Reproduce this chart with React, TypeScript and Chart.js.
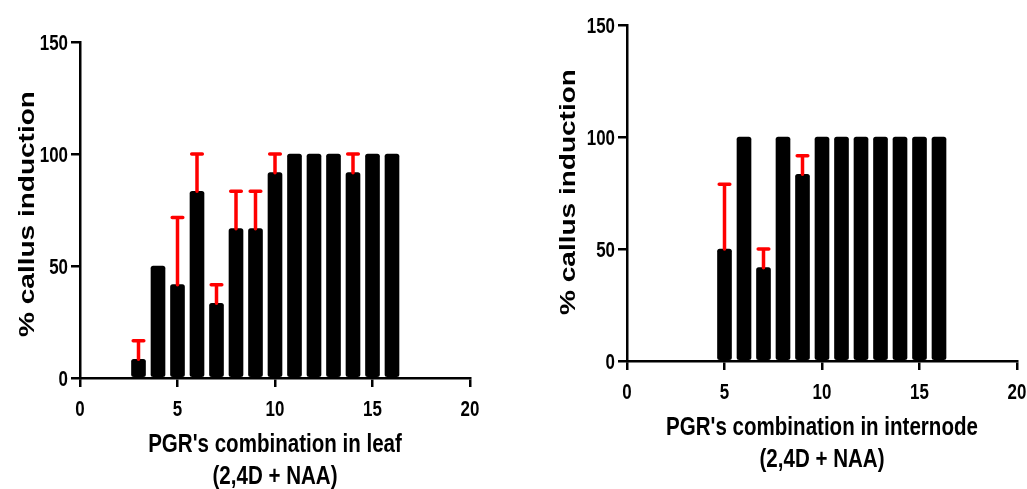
import React, { useEffect, useRef } from 'react';
import { Chart, registerables } from 'chart.js';

Chart.register(...registerables);

// ---- data ----
const leafX = [3, 4, 5, 6, 7, 8, 9, 10, 11, 12, 13, 14, 15, 16];
const leafMean = [8.33, 50, 41.67, 83.33, 33.33, 66.67, 66.67, 91.67, 100, 100, 100, 91.67, 100, 100];
const leafSD = [8.33, 0, 30, 16.67, 8.33, 16.67, 16.67, 8.33, 0, 0, 0, 8.33, 0, 0];

const internodeX = [5, 6, 7, 8, 9, 10, 11, 12, 13, 14, 15, 16];
const internodeMean = [50, 100, 41.67, 100, 83.33, 100, 100, 100, 100, 100, 100, 100];
const internodeSD = [28.87, 0, 8.33, 0, 8.33, 0, 0, 0, 0, 0, 0, 0];

const xMin = 0;
const xMax = 20;
const xStep = 5;
const yMin = 0;
const yMax = 150;
const yStep = 50;

const yTitle = '% callus induction';
const leafTitle = ["PGR's combination in leaf", '(2,4D + NAA)'];
const internodeTitle = ["PGR's combination in internode", '(2,4D + NAA)'];

const FONT = "'Liberation Sans', Arial, sans-serif";
const SQUEEZE = 0.77;

type PanelCfg = {
  xs: number[];
  means: number[];
  sds: number[];
  xTitle: string[];
  left: number;
  width: number;
  padTop: number;
  padRight: number;
  yAxisWidth: number;
  xAxisHeight: number;
  yTitleX: number;
  yTitleY: number;
};

const panels: PanelCfg[] = [
  {
    xs: leafX, means: leafMean, sds: leafSD, xTitle: leafTitle,
    left: 0, width: 513, padTop: 42, padRight: 43, yAxisWidth: 80, xAxisHeight: 111,
    yTitleX: 33.5, yTitleY: 214,
  },
  {
    xs: internodeX, means: internodeMean, sds: internodeSD, xTitle: internodeTitle,
    left: 513, width: 514, padTop: 25, padRight: 10, yAxisWidth: 114, xAxisHeight: 128,
    yTitleX: 62, yTitleY: 192,
  },
];

const H = 489;

function Panel({ cfg }: { cfg: PanelCfg }) {
  const ref = useRef<HTMLCanvasElement | null>(null);
  useEffect(() => {
    const canvas = ref.current;
    if (!canvas) return;

    const errorBars = {
      id: 'errorBars',
      afterDatasetsDraw(chart: any) {
        const ctx = chart.ctx;
        const meta = chart.getDatasetMeta(0);
        const ys = chart.scales.y;
        ctx.save();
        ctx.strokeStyle = '#ff0000';
        ctx.lineWidth = 3.5;
        ctx.lineCap = 'round';
        meta.data.forEach((el: any, i: number) => {
          const sd = cfg.sds[i];
          if (!sd) return;
          const top = ys.getPixelForValue(cfg.means[i] + sd);
          ctx.beginPath();
          ctx.moveTo(el.x, el.y);
          ctx.lineTo(el.x, top);
          ctx.moveTo(el.x - 5.3, top);
          ctx.lineTo(el.x + 5.3, top);
          ctx.stroke();
        });
        ctx.restore();
      },
    };

    // squeezed (narrow) text for tick labels and titles
    const texts = {
      id: 'texts',
      afterDraw(chart: any) {
        const ctx = chart.ctx;
        const area = chart.chartArea;
        const xs = chart.scales.x;
        const ys = chart.scales.y;
        ctx.save();
        ctx.fillStyle = '#000';
        ctx.textBaseline = 'alphabetic';

        // tick labels
        ctx.font = `bold 22px ${FONT}`;
        ctx.textAlign = 'center';
        xs.ticks.forEach((t: any) => {
          const px = xs.getPixelForValue(t.value);
          ctx.save();
          ctx.translate(px, area.bottom + 38);
          ctx.scale(SQUEEZE, 1);
          ctx.fillText(String(t.value), 0, 0);
          ctx.restore();
        });
        ctx.textAlign = 'right';
        ys.ticks.forEach((t: any) => {
          const py = ys.getPixelForValue(t.value);
          ctx.save();
          ctx.translate(area.left - 12, py + 8);
          ctx.scale(SQUEEZE, 1);
          ctx.fillText(String(t.value), 0, 0);
          ctx.restore();
        });

        // x title
        ctx.font = `bold 26px ${FONT}`;
        ctx.textAlign = 'center';
        const cx = (area.left + area.right) / 2;
        cfg.xTitle.forEach((line, i) => {
          ctx.save();
          ctx.translate(cx, area.bottom + 74 + i * 32);
          ctx.scale(SQUEEZE + 0.02, 1);
          ctx.fillText(line, 0, 0);
          ctx.restore();
        });

        // y title
        ctx.save();
        ctx.font = `bold 28px ${FONT}`;
        ctx.translate(cfg.yTitleX, cfg.yTitleY);
        ctx.rotate(-Math.PI / 2);
        ctx.scale(1, SQUEEZE);
        ctx.fillText(yTitle, 0, 0);
        ctx.restore();
        ctx.restore();
      },
    };

    const gridCommon = {
      display: true,
      drawOnChartArea: false,
      drawTicks: true,
      offset: false,
      tickLength: 9,
      color: '#000',
      tickColor: '#000',
      lineWidth: 2.5,
      tickWidth: 2.5,
    };

    const chart = new Chart(canvas, {
      type: 'bar',
      data: {
        datasets: [
          {
            data: cfg.xs.map((x, i) => ({ x, y: cfg.means[i] })),
            backgroundColor: '#000',
            borderWidth: 0,
            borderRadius: 2.5,
            borderSkipped: false,
            barThickness: 14,
          },
        ],
      },
      options: {
        responsive: false,
        animation: false,
        devicePixelRatio: 1,
        layout: { padding: { top: cfg.padTop, right: cfg.padRight, left: 0, bottom: 0 } },
        plugins: { legend: { display: false }, tooltip: { enabled: false } },
        scales: {
          x: {
            type: 'linear',
            min: xMin,
            max: xMax,
            offset: false,
            grid: gridCommon,
            border: { display: true, color: '#000', width: 2.5 },
            ticks: { stepSize: xStep, display: false },
            afterFit(scale: any) {
              scale.height = cfg.xAxisHeight;
            },
          },
          y: {
            type: 'linear',
            min: yMin,
            max: yMax,
            grid: gridCommon,
            border: { display: true, color: '#000', width: 2.5 },
            ticks: { stepSize: yStep, display: false },
            afterFit(scale: any) {
              scale.width = cfg.yAxisWidth;
            },
          },
        },
      } as any,
      plugins: [errorBars, texts],
    });
    return () => chart.destroy();
  }, [cfg]);

  return (
    <canvas
      ref={ref}
      width={cfg.width}
      height={H}
      style={{ position: 'absolute', left: cfg.left, top: 0, width: cfg.width, height: H }}
    />
  );
}

export default function App() {
  return (
    <div style={{ position: 'absolute', left: 0, top: 0, width: 1027, height: H, background: '#fff' }}>
      {panels.map((p, i) => (
        <Panel key={i} cfg={p} />
      ))}
    </div>
  );
}
